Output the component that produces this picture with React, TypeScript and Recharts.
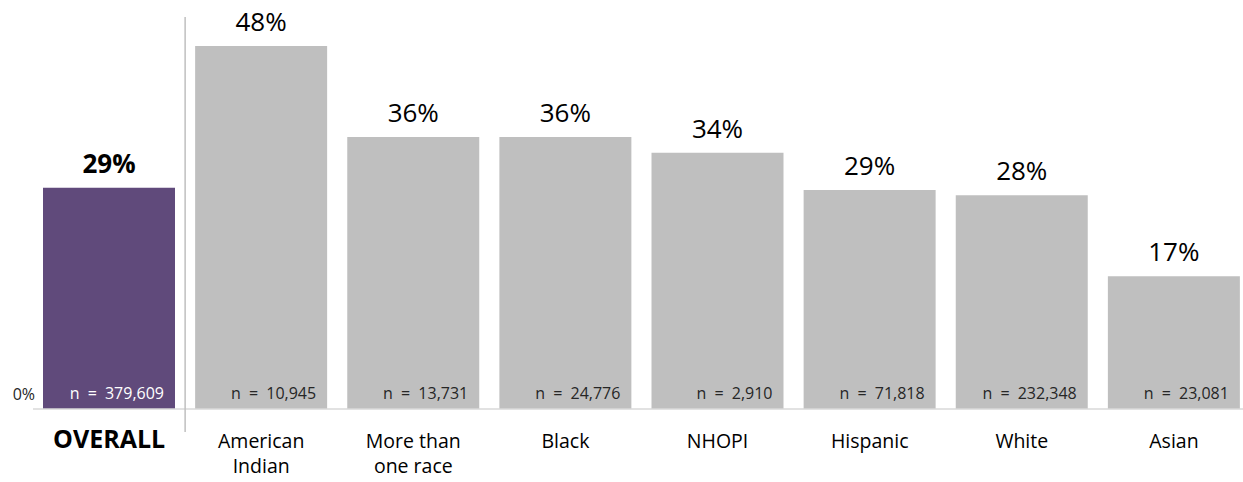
import React from "react";
import { BarChart, Bar, XAxis, YAxis, Cell, LabelList } from "recharts";

const categories = ["OVERALL", "American Indian", "More than one race", "Black", "NHOPI", "Hispanic", "White", "Asian"];
const tickLines = [["OVERALL"], ["American", "Indian"], ["More than", "one race"], ["Black"], ["NHOPI"], ["Hispanic"], ["White"], ["Asian"]];
const values = [29.2, 47.9, 35.9, 35.9, 33.8, 28.9, 28.2, 17.5];
const pctLabels = ["29%", "48%", "36%", "36%", "34%", "29%", "28%", "17%"];
const nLabels = ["n = 379,609", "n = 10,945", "n = 13,731", "n = 24,776", "n = 2,910", "n = 71,818", "n = 232,348", "n = 23,081"];
const zeroLabel = "0%";

const data = categories.map((c, i) => ({ name: c, value: values[i], pct: pctLabels[i], n: nLabels[i] }));

const FONT = "'Open Sans', 'Noto Sans', sans-serif";
const PURPLE = "#604a7b";
const GRAY = "#bfbfbf";

const XTick = (props: any) => {
  const { x, y, payload, index } = props;
  const lines = tickLines[index] || [payload.value];
  const half = payload && payload.offset ? payload.offset : 76;
  const bold = index === 0;
  return (
    <g>
      {index === 0 && (
        <line x1={x + half} x2={x + half} y1={17} y2={432} stroke={GRAY} strokeWidth={1.5} />
      )}
      {lines.map((l: string, i: number) => (
        <text
          key={i}
          x={x}
          y={y + 31 + i * 25}
          textAnchor="middle"
          fontFamily={FONT}
          fontSize={bold ? 25 : 19.5}
          fontWeight={bold ? 700 : 400}
          fill="#000"
        >
          {l}
        </text>
      ))}
    </g>
  );
};

const TopLabel = (props: any) => {
  const { x, y, width, index } = props;
  const bold = index === 0;
  return (
    <text
      x={x + width / 2}
      y={y - 15}
      textAnchor="middle"
      fontFamily={FONT}
      fontSize={26}
      fontWeight={bold ? 700 : 400}
      fill="#000"
    >
      {pctLabels[index]}
    </text>
  );
};

const NLabel = (props: any) => {
  const { x, y, width, height, index } = props;
  return (
    <g>
      {index === 0 && (
        <text x={x - 8} y={y + height - 9} textAnchor="end" fontFamily={FONT} fontSize={16} fill="#262626">
          {zeroLabel}
        </text>
      )}
      <text
        x={x + width - 11}
        y={y + height - 10}
        textAnchor="end"
        fontFamily={FONT}
        fontSize={16}
        wordSpacing={4}
        fill={index === 0 ? "#ffffff" : "#262626"}
      >
        {nLabels[index]}
      </text>
    </g>
  );
};

export default function App() {
  return (
    <div style={{ position: "absolute", left: 0, top: 0, width: 1243, height: 482, overflow: "hidden", background: "#fff" }}>
      <BarChart
        width={1260}
        height={482}
        data={data}
        margin={{ top: 30, right: 10, bottom: 0, left: 33 }}
        barCategoryGap={10}
      >
        <XAxis
          dataKey="name"
          height={73}
          interval={0}
          tickLine={false}
          axisLine={{ stroke: "#d9d9d9", strokeWidth: 1.5 }}
          tick={<XTick />}
        />
        <YAxis hide domain={[0, 50]} />
        <Bar dataKey="value" isAnimationActive={false}>
          {data.map((d, i) => (
            <Cell key={i} fill={i === 0 ? PURPLE : GRAY} />
          ))}
          <LabelList dataKey="pct" content={<TopLabel />} />
          <LabelList dataKey="n" content={<NLabel />} />
        </Bar>
      </BarChart>
    </div>
  );
}
